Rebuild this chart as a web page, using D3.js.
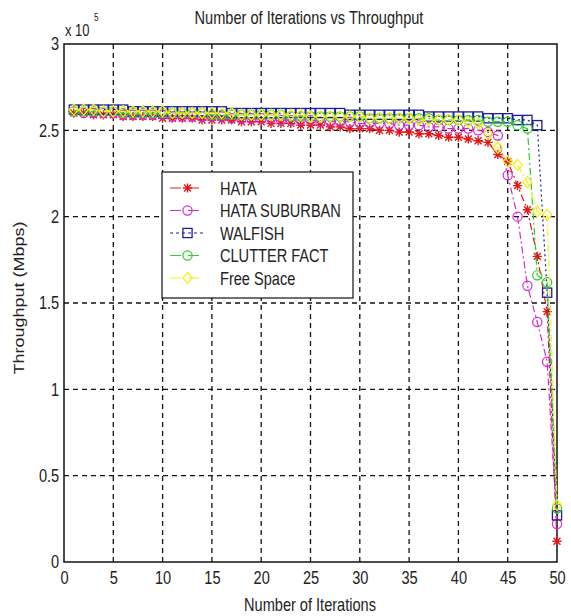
<!DOCTYPE html>
<html>
<head>
<meta charset="utf-8">
<script src="https://cdn.jsdelivr.net/npm/d3@7"></script>
<style>
  body { margin: 0; background: #fff; }
  svg { display: block; }
  text { font-family: "Liberation Sans", Arial, sans-serif; fill: #222; }
</style>
</head>
<body>
<div id="chart"></div>
<script>
// data (throughput in units of 1e5)
var iterations = d3.range(1, 51);
var xTicks = [0, 5, 10, 15, 20, 25, 30, 35, 40, 45, 50];
var yTicks = [0, 0.5, 1, 1.5, 2, 2.5, 3];
var seriesNames = ["HATA", "HATA SUBURBAN", "WALFISH", "CLUTTER FACT", "Free Space"];

var hata = [2.60, 2.60, 2.59, 2.59, 2.59, 2.58, 2.58, 2.58, 2.58, 2.57,
            2.57, 2.57, 2.57, 2.56, 2.56, 2.56, 2.56, 2.55, 2.55, 2.55,
            2.54, 2.54, 2.54, 2.53, 2.53, 2.53, 2.52, 2.52, 2.51, 2.51,
            2.51, 2.50, 2.50, 2.49, 2.49, 2.48, 2.48, 2.47, 2.46, 2.46,
            2.45, 2.44, 2.43, 2.36, 2.32, 2.18, 2.04, 1.77, 1.45, 0.12];
var hataSuburban = [2.61, 2.60, 2.60, 2.60, 2.60, 2.59, 2.59, 2.59, 2.59, 2.59,
            2.58, 2.58, 2.58, 2.58, 2.58, 2.58, 2.57, 2.57, 2.57, 2.57,
            2.57, 2.56, 2.56, 2.56, 2.56, 2.55, 2.55, 2.55, 2.55, 2.54,
            2.54, 2.54, 2.54, 2.53, 2.53, 2.53, 2.52, 2.52, 2.51, 2.51,
            2.51, 2.50, 2.49, 2.47, 2.24, 2.00, 1.60, 1.39, 1.16, 0.22];
var walfish = [2.62, 2.62, 2.62, 2.62, 2.62, 2.62, 2.61, 2.61, 2.61, 2.61,
            2.61, 2.61, 2.61, 2.61, 2.61, 2.61, 2.60, 2.60, 2.60, 2.60,
            2.60, 2.60, 2.60, 2.60, 2.60, 2.60, 2.60, 2.60, 2.59, 2.59,
            2.59, 2.59, 2.59, 2.59, 2.59, 2.59, 2.58, 2.58, 2.58, 2.58,
            2.58, 2.58, 2.57, 2.57, 2.57, 2.56, 2.56, 2.53, 1.56, 0.27];
var clutterFact = [2.61, 2.61, 2.61, 2.61, 2.61, 2.60, 2.60, 2.60, 2.60, 2.60,
            2.60, 2.60, 2.60, 2.60, 2.59, 2.59, 2.59, 2.59, 2.59, 2.59,
            2.59, 2.59, 2.58, 2.58, 2.58, 2.58, 2.58, 2.58, 2.58, 2.58,
            2.57, 2.57, 2.57, 2.57, 2.57, 2.57, 2.57, 2.56, 2.56, 2.56,
            2.56, 2.56, 2.55, 2.55, 2.55, 2.53, 2.51, 1.66, 1.62, 0.31];
var freeSpace = [2.62, 2.62, 2.62, 2.61, 2.61, 2.61, 2.61, 2.61, 2.61, 2.61,
            2.60, 2.60, 2.60, 2.60, 2.60, 2.60, 2.60, 2.59, 2.59, 2.59,
            2.59, 2.59, 2.59, 2.59, 2.58, 2.58, 2.58, 2.58, 2.58, 2.58,
            2.57, 2.57, 2.57, 2.57, 2.57, 2.56, 2.56, 2.56, 2.56, 2.56,
            2.55, 2.54, 2.48, 2.40, 2.32, 2.30, 2.20, 2.03, 2.01, 0.33];

var seriesValues = [hata, hataSuburban, walfish, clutterFact, freeSpace];
var seriesColors = ["#e01818", "#d42ad4", "#1c1c9c", "#2ecc2e", "#f2ee1a"];
var seriesDash = ["7,3,2,3", "7,3,2,3", "2,3", "7,3,2,3", "7,3,2,3"];
var seriesMarker = ["star", "circle", "square", "circle", "diamond"];

var W = 571, H = 616;
var margin = {top: 44, right: 14, bottom: 54, left: 64};
var SQ = 0.81; // text in the picture is horizontally squeezed

var x = d3.scaleLinear().domain([0, 50]).range([margin.left, W - margin.right]);
var y = d3.scaleLinear().domain([0, 3]).range([H - margin.bottom, margin.top]);

var svg = d3.select("#chart").append("svg")
    .attr("width", W)
    .attr("height", H);

// put a text at (tx,ty) and squeeze it sideways
function label(tx, ty, str, size, anchor) {
    return svg.append("text")
        .attr("transform", "translate(" + tx + "," + ty + ") scale(" + SQ + ",1)")
        .attr("text-anchor", anchor || "start")
        .style("font-size", size + "px")
        .text(str);
}

// grid
svg.append("g").selectAll("line")
    .data(xTicks.slice(1, -1))
    .enter().append("line")
    .attr("x1", function (d) { return x(d); })
    .attr("x2", function (d) { return x(d); })
    .attr("y1", y(0)).attr("y2", y(3))
    .attr("stroke", "#111").attr("stroke-width", 1.3)
    .attr("stroke-dasharray", "5,4");
svg.append("g").selectAll("line")
    .data(yTicks.slice(1, -1))
    .enter().append("line")
    .attr("y1", function (d) { return y(d); })
    .attr("y2", function (d) { return y(d); })
    .attr("x1", x(0)).attr("x2", x(50))
    .attr("stroke", "#111").attr("stroke-width", 1.3)
    .attr("stroke-dasharray", "5,4");

// axes
var fmt = d3.format("~g");
var xAxis = d3.axisBottom(x).tickValues(xTicks).tickFormat(fmt).tickSize(0).tickPadding(9);
var yAxis = d3.axisLeft(y).tickValues(yTicks).tickFormat(fmt).tickSize(0).tickPadding(6);
svg.append("g").attr("transform", "translate(0," + y(0) + ")").call(xAxis)
    .call(function (g) { g.select(".domain").remove(); })
    .selectAll("text").style("font-size", "18px").attr("fill", "#222")
    .attr("transform", "scale(" + SQ + ",1)");
svg.append("g").attr("transform", "translate(" + x(0) + ",0)").call(yAxis)
    .call(function (g) { g.select(".domain").remove(); })
    .selectAll("text").style("font-size", "18px").attr("fill", "#222")
    .attr("transform", "scale(" + SQ + ",1)");

svg.append("rect")
    .attr("x", x(0)).attr("y", y(3))
    .attr("width", x(50) - x(0)).attr("height", y(0) - y(3))
    .attr("fill", "none").attr("stroke", "#111").attr("stroke-width", 1.5);

// exponent
label(65, 36, "x 10", 16);
label(94, 21, "5", 10);

// title and axis labels
label(309, 24, "Number of Iterations vs Throughput", 18, "middle");
label(310, 611, "Number of Iterations", 18, "middle");
svg.append("text")
    .attr("transform", "translate(24,298) rotate(-90) scale(1," + SQ + ")")
    .attr("text-anchor", "middle")
    .style("font-size", "18px")
    .text("Throughput (Mbps)");

function drawMarker(g, type, cx, cy, color) {
    var r = 4.6;
    if (type === "circle") {
        g.append("circle").attr("cx", cx).attr("cy", cy).attr("r", r)
            .attr("fill", "none").attr("stroke", color).attr("stroke-width", 1.2);
    } else if (type === "square") {
        g.append("rect").attr("x", cx - r).attr("y", cy - r).attr("width", 2 * r).attr("height", 2 * r)
            .attr("fill", "none").attr("stroke", color).attr("stroke-width", 1.3);
    } else if (type === "diamond") {
        g.append("path")
            .attr("d", "M" + cx + "," + (cy - r - 1) + "L" + (cx + r) + "," + cy + "L" + cx + "," + (cy + r + 1) + "L" + (cx - r) + "," + cy + "Z")
            .attr("fill", "none").attr("stroke", color).attr("stroke-width", 1.2);
    } else {
        var s = r * 0.75;
        g.append("path")
            .attr("d", "M" + (cx - r) + "," + cy + "H" + (cx + r) + "M" + cx + "," + (cy - r) + "V" + (cy + r) +
                "M" + (cx - s) + "," + (cy - s) + "L" + (cx + s) + "," + (cy + s) +
                "M" + (cx - s) + "," + (cy + s) + "L" + (cx + s) + "," + (cy - s))
            .attr("fill", "none").attr("stroke", color).attr("stroke-width", 1.4);
    }
}

var line = d3.line()
    .x(function (d, i) { return x(iterations[i]); })
    .y(function (d) { return y(d); });

seriesValues.forEach(function (vals, k) {
    var g = svg.append("g");
    g.append("path").datum(vals)
        .attr("d", line)
        .attr("fill", "none")
        .attr("stroke", seriesColors[k])
        .attr("stroke-width", 1.2)
        .attr("stroke-dasharray", seriesDash[k]);
    vals.forEach(function (v, i) {
        drawMarker(g, seriesMarker[k], x(iterations[i]), y(v), seriesColors[k]);
    });
});

// legend
var lg = svg.append("g");
lg.append("rect").attr("x", 162).attr("y", 172).attr("width", 191).attr("height", 126)
    .attr("fill", "#fff").attr("stroke", "#111").attr("stroke-width", 1.2);
seriesNames.forEach(function (name, k) {
    var ly = 188 + k * 22.5;
    lg.append("line").attr("x1", 170).attr("x2", 205).attr("y1", ly).attr("y2", ly)
        .attr("stroke", seriesColors[k]).attr("stroke-width", 1.2)
        .attr("stroke-dasharray", seriesDash[k] === "2,3" ? "3,3" : "11,7");
    drawMarker(lg, seriesMarker[k], 187.5, ly, seriesColors[k]);
    lg.append("text")
        .attr("transform", "translate(220," + (ly + 6.5) + ") scale(" + SQ + ",1)")
        .style("font-size", "18px").text(name);
});
</script>
</body>
</html>
